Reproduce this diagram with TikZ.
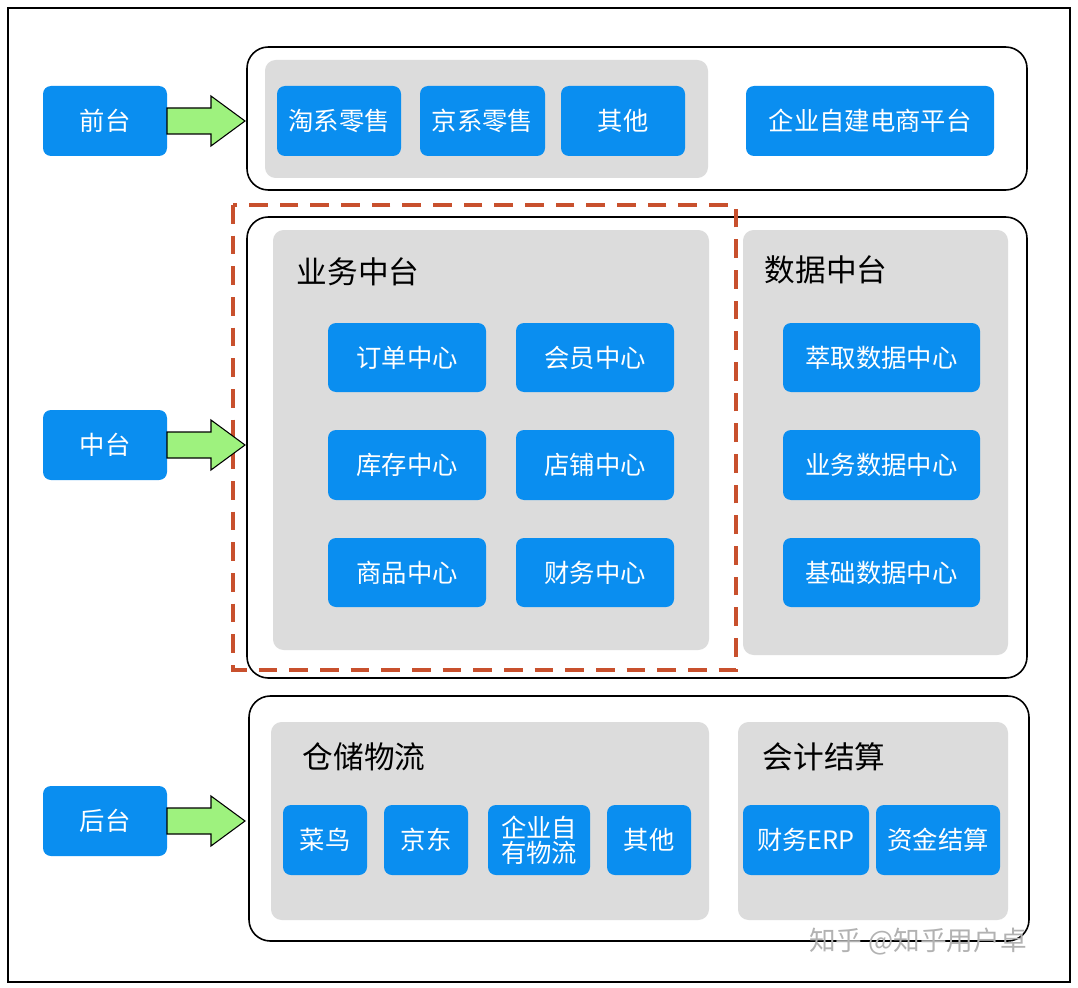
\documentclass[tikz,border=0pt]{standalone}
\usepackage{fontspec}
\setmainfont{Noto Sans CJK SC}
\usetikzlibrary{shapes.arrows}
\definecolor{bl}{HTML}{0A8EF0}
\definecolor{gr}{HTML}{DCDCDC}
\definecolor{ag}{HTML}{9EF27E}
\definecolor{rd}{HTML}{C8502D}
\begin{document}
\begin{tikzpicture}[x=0.75pt,y=-0.75pt,
 b/.style={fill=bl,rounded corners=6pt,text=white,font=\fontsize{18}{21}\selectfont},
 g/.style={fill=gr,rounded corners=8pt},
 o/.style={draw=black,line width=1.2pt,rounded corners=16pt},
 t/.style={font=\fontsize{23}{27}\selectfont,anchor=west},
 ar/.style={draw=black,fill=ag,line width=0.8pt}]
\useasboundingbox (0,0) rectangle (1078,988);
\fill[white] (0,0) rectangle (1078,988);
\draw[line width=2.2pt] (8,8) rectangle (1070,982);
% front
\draw[o] (247,47) rectangle (1027,190);
\fill[g] (265,60) rectangle (708,178);
\newcommand{\bx}[6]{\fill[b] (#1,#2) rectangle (#3,#4); \node[text=white,font=\fontsize{19}{22}\selectfont,align=center] (#5) at ({(#1+#3)/2},{(#2+#4)/2}) {#6};}
\bx{277}{86}{401}{156}{a1}{淘系零售}
\bx{420}{86}{545}{156}{a2}{京系零售}
\bx{561}{86}{685}{156}{a3}{其他}
\bx{746}{86}{994}{156}{a4}{企业自建电商平台}
\bx{43}{86}{167}{156}{qt}{前台}
% middle
\draw[o] (247,217) rectangle (1027,678);
\fill[g] (273,230) rectangle (709,650);
\fill[g] (743,230) rectangle (1008,655);
\node[t] (t1) at (292,272) {业务中台};
\node[t] (t2) at (760,270) {数据中台};
\bx{328}{323}{486}{392}{m1}{订单中心}
\bx{516}{323}{674}{392}{m2}{会员中心}
\bx{328}{430}{486}{500}{m3}{库存中心}
\bx{516}{430}{674}{500}{m4}{店铺中心}
\bx{328}{538}{486}{607}{m5}{商品中心}
\bx{516}{538}{674}{607}{m6}{财务中心}
\bx{783}{323}{980}{392}{d1}{萃取数据中心}
\bx{783}{430}{980}{500}{d2}{业务数据中心}
\bx{783}{538}{980}{607}{d3}{基础数据中心}
\draw[rd,line width=2.5pt,dash pattern=on 14pt off 9pt] (233,205) rectangle (736,670);
\bx{43}{410}{167}{480}{zt}{中台}
% back
\draw[o] (249,696) rectangle (1029,941);
\fill[g] (271,722) rectangle (709,920);
\fill[g] (738,722) rectangle (1008,920);
\node[t] (t3) at (298,757) {仓储物流};
\node[t] (t4) at (758,757) {会计结算};
\bx{283}{805}{367}{875}{h1}{菜鸟}
\bx{384}{805}{468}{875}{h2}{京东}
\bx{488}{805}{590}{875}{h3}{企业自\\[-3pt]有物流}
\bx{607}{805}{691}{875}{h4}{其他}
\bx{743}{805}{869}{875}{h5}{财务ERP}
\bx{876}{805}{1000}{875}{h6}{资金结算}
\bx{43}{786}{167}{856}{ht}{后台}
% arrows
\foreach \y in {121,445,821}{
\draw[ar] (167,\y-13) -- (211,\y-13) -- (211,\y-25) -- (245,\y) -- (211,\y+25) -- (211,\y+13) -- (167,\y+13) -- cycle;}
\node[text=gray!60,font=\fontsize{20}{23}\selectfont] (wm) at (918,942) {知乎 @知乎用户卓};
\end{tikzpicture}
\end{document}
